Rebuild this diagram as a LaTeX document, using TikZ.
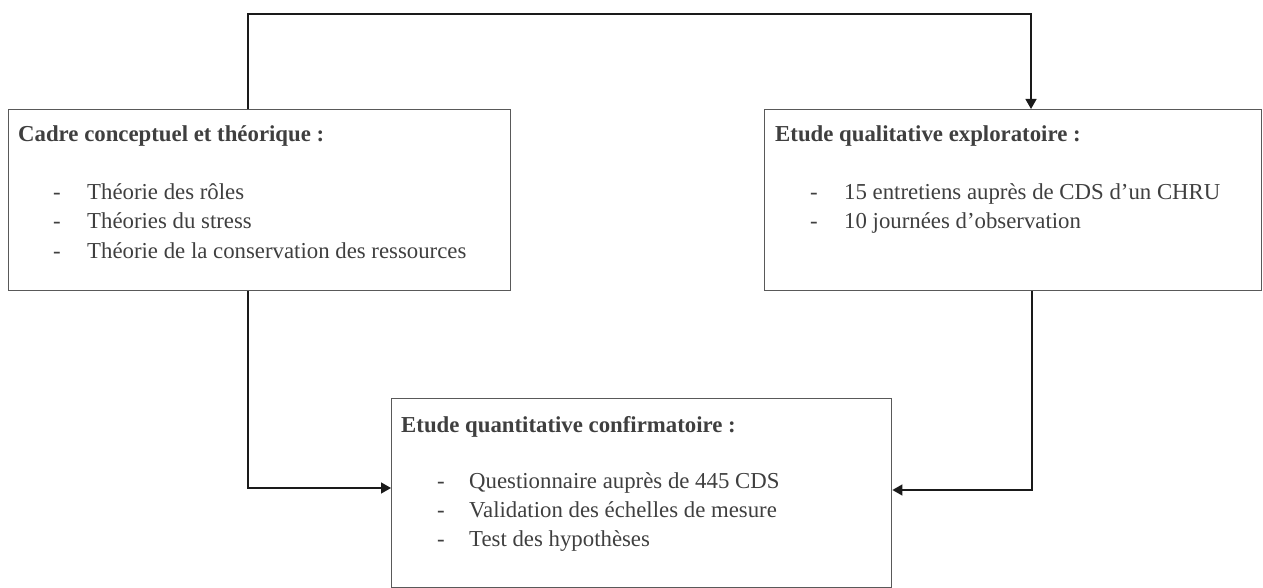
\documentclass[tikz,border=0pt]{standalone}
\usepackage{fontspec}
\setmainfont{Liberation Serif}
\usetikzlibrary{arrows.meta}
\definecolor{boxline}{HTML}{595959}
\definecolor{txt}{HTML}{3F3F3F}
\definecolor{wire}{HTML}{1A1A1A}
\begin{document}
\begin{tikzpicture}[x=1pt,y=-1pt,
  panel/.style={draw=boxline,line width=1.4pt,inner sep=0pt,anchor=north west},
  heading/.style={inner sep=0pt,anchor=base west,text=txt,font=\fontsize{22.8}{27}\selectfont\bfseries},
  item/.style={inner sep=0pt,anchor=base west,text=txt,font=\fontsize{22.8}{27}\selectfont},
  conn/.style={draw=wire,line width=1.4pt,-{Triangle[length=10pt,width=11pt]}}]
\useasboundingbox (0,0) rectangle (1263,588);

% boxes
\node[panel,minimum width=502pt,minimum height=181pt] (b1) at (8,109) {};
\node[panel,minimum width=497pt,minimum height=181pt] (b2) at (764,109) {};
\node[panel,minimum width=500pt,minimum height=189pt] (b3) at (391,398) {};

% box 1 text
\node[heading] (h1) at (18,142) {Cadre conceptuel et théorique :};
\node[item] (d11) at (53,200) {-};
\node[item] (i11) at (87,200) {Théorie des rôles};
\node[item] (d12) at (53,229) {-};
\node[item] (i12) at (87,229) {Théories du stress};
\node[item] (d13) at (53,258) {-};
\node[item] (i13) at (87,258) {Théorie de la conservation des ressources};

% box 2 text
\node[heading] (h2) at (775,142) {Etude qualitative exploratoire :};
\node[item] (d21) at (810,200) {-};
\node[item] (i21) at (844,200) {15 entretiens auprès de CDS d’un CHRU};
\node[item] (d22) at (810,229) {-};
\node[item] (i22) at (844,229) {10 journées d’observation};

% box 3 text
\node[heading] (h3) at (401,432) {Etude quantitative confirmatoire :};
\node[item] (d31) at (437,488) {-};
\node[item] (i31) at (469,488) {Questionnaire auprès de 445 CDS};
\node[item] (d32) at (437,517) {-};
\node[item] (i32) at (469,517) {Validation des échelles de mesure};
\node[item] (d33) at (437,546) {-};
\node[item] (i33) at (469,546) {Test des hypothèses};

% routing points
\coordinate (tl) at (248,14);
\coordinate (tr) at (1031,14);
\coordinate (bl) at (248,488);
\coordinate (br) at (1032,490);

% connectors
\draw[conn] (b1.north -| tl) -- (tl) -- (tr) -- (b2.north -| tr);
\draw[conn] (b1.south -| bl) -- (bl) -- (b3.west |- bl);
\draw[conn] (b2.south -| br) -- (br) -- (b3.east |- br);
\end{tikzpicture}
\end{document}
